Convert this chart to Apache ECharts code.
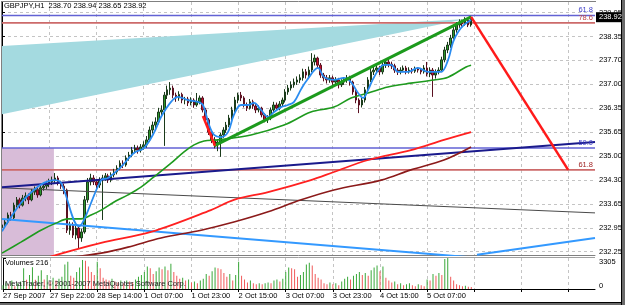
<!DOCTYPE html>
<html>
<head>
<meta charset="utf-8">
<script src="https://cdn.jsdelivr.net/npm/echarts@6/dist/echarts.min.js"></script>
<style>
  html, body { margin: 0; padding: 0; background: #fff; }
  #chart { width: 625px; height: 305px; }
</style>
</head>
<body>
<div id="chart"></div>
<script>
// GBPJPY H1, 27 Sep 2007 06:00 .. 5 Oct 2007 22:00 (one row per hourly bar)
// rows: [open, close, low, high]
const candles = [
  [232.95,233.03,232.80,233.12],[233.03,233.11,232.96,233.20],[233.11,233.31,233.05,233.38],[233.31,233.23,233.15,233.40],
  [233.23,233.59,233.18,233.66],[233.59,233.74,233.52,233.82],[233.74,233.59,233.50,233.80],[233.59,233.79,233.55,233.88],
  [233.79,233.85,233.70,233.95],[233.85,233.74,233.62,233.92],[233.74,233.96,233.70,234.05],[233.96,234.02,233.88,234.12],
  [234.02,233.88,233.80,234.08],[233.88,234.08,233.84,234.16],[234.08,234.13,234.00,234.22],[234.13,234.19,234.05,234.28],
  [234.19,234.25,234.10,234.34],[234.25,234.30,234.16,234.40],[234.30,234.36,234.22,234.50],[234.36,234.22,234.15,234.42],
  [234.22,234.13,234.05,234.28],[234.13,234.02,233.90,234.20],[234.02,232.88,232.80,234.06],[232.88,233.03,232.75,233.12],
  [233.03,232.74,232.66,233.10],[232.74,232.94,232.62,233.02],[232.94,232.66,232.37,233.00],[232.66,232.83,232.55,232.92],
  [232.83,233.74,232.78,233.85],[233.74,234.25,233.66,234.36],[234.25,234.36,234.15,234.48],[234.36,234.25,234.16,234.44],
  [234.25,234.16,234.05,234.32],[234.16,234.30,234.08,234.38],[234.30,234.36,233.17,234.45],[234.36,234.42,234.28,234.50],
  [234.42,234.30,234.22,234.48],[234.30,234.45,234.24,234.52],[234.45,234.53,234.38,234.62],[234.53,234.64,234.46,234.72],
  [234.64,234.78,234.58,234.86],[234.78,234.73,234.64,234.86],[234.73,234.93,234.68,235.00],[234.93,235.01,234.85,235.10],
  [235.01,235.15,234.95,235.24],[235.15,235.21,235.06,235.30],[235.21,235.15,235.05,235.28],[235.15,235.24,235.08,235.32],
  [235.24,235.30,235.16,235.40],[235.30,235.44,235.22,235.55],[235.44,235.72,235.38,235.82],[235.72,235.86,235.62,235.96],
  [235.86,235.95,235.75,236.08],[235.95,236.23,235.88,236.35],[236.23,236.29,236.10,236.42],[236.29,236.71,235.27,236.80],
  [236.71,236.86,236.60,236.98],[236.86,236.91,236.72,237.08],[236.91,236.71,236.62,236.98],[236.71,236.63,236.52,236.78],
  [236.63,236.73,236.55,236.82],[236.73,236.57,236.48,236.78],[236.57,236.60,236.45,236.66],[236.60,236.49,236.40,236.66],
  [236.49,236.57,236.42,236.65],[236.57,236.43,236.35,236.62],[236.43,236.52,236.38,236.77],[236.52,236.63,236.45,236.70],
  [236.63,236.29,236.22,236.68],[236.29,236.01,235.92,236.35],[236.01,235.66,235.58,236.06],[235.66,235.44,235.35,235.72],
  [235.44,235.30,235.20,235.52],[235.30,235.38,235.12,235.46],[235.38,235.58,234.96,235.64],[235.58,235.72,235.50,235.80],
  [235.72,235.86,235.64,235.95],[235.86,236.06,235.80,236.15],[236.06,236.29,236.00,236.38],[236.29,236.57,236.22,236.66],
  [236.57,236.71,236.48,236.78],[236.71,236.63,236.54,236.80],[236.63,236.43,236.36,236.68],[236.43,236.34,236.26,236.50],
  [236.34,236.52,236.30,236.60],[236.52,236.40,236.32,236.58],[236.40,236.29,236.20,236.46],[236.29,236.34,236.22,236.42],
  [236.34,236.15,236.08,236.38],[236.15,236.01,235.94,236.20],[236.01,236.06,235.92,236.14],[236.06,236.29,236.00,236.36],
  [236.29,236.43,236.22,236.52],[236.43,236.34,236.26,236.50],[236.34,236.46,236.28,236.54],[236.46,236.57,236.38,236.64],
  [236.57,236.80,236.50,236.88],[236.80,236.91,236.72,237.00],[236.91,237.00,236.84,237.10],[237.00,237.08,236.92,237.18],
  [237.08,237.14,237.00,237.24],[237.14,237.20,237.05,237.30],[237.20,237.37,237.12,237.46],[237.37,237.28,237.18,237.45],
  [237.28,237.42,237.20,237.52],[237.42,237.65,237.36,237.90],[237.65,237.76,237.55,237.86],[237.76,237.56,237.48,237.80],
  [237.56,237.28,237.20,237.62],[237.28,237.20,237.10,237.34],[237.20,237.14,237.04,237.28],[237.14,237.20,237.06,237.28],
  [237.20,237.08,237.00,237.26],[237.08,237.14,237.00,237.22],[237.14,237.00,236.90,237.20],[237.00,237.08,236.94,237.16],
  [237.08,237.14,237.00,237.22],[237.14,237.20,237.06,237.28],[237.20,237.08,236.98,237.26],[237.08,236.80,236.72,237.12],
  [236.80,236.57,236.48,236.86],[236.57,236.43,236.20,236.62],[236.43,236.57,236.36,236.66],[236.57,236.86,236.50,236.94],
  [236.86,237.14,236.80,237.22],[237.14,237.37,237.08,237.46],[237.37,237.42,237.28,237.52],[237.42,237.48,237.34,237.58],
  [237.48,237.37,237.28,237.54],[237.37,237.56,237.30,237.64],[237.56,237.65,237.48,237.72],[237.65,237.59,237.50,237.76],
  [237.59,237.54,237.45,237.66],[237.54,237.42,237.34,237.60],[237.42,237.37,237.28,237.48],[237.37,237.42,237.30,237.50],
  [237.42,237.48,237.36,237.55],[237.48,237.37,237.30,237.54],[237.37,237.42,237.32,237.50],[237.42,237.39,237.32,237.48],
  [237.39,237.45,237.34,237.52],[237.45,237.42,237.35,237.50],[237.42,237.37,237.30,237.48],[237.37,237.48,237.32,237.56],
  [237.48,237.31,237.24,237.65],[237.31,237.42,237.22,237.50],[237.42,237.28,236.66,237.48],[237.28,237.37,237.18,237.44],
  [237.37,237.42,237.30,237.50],[237.42,237.71,237.36,237.80],[237.71,237.99,237.64,238.08],[237.99,238.13,237.90,238.22],
  [238.13,238.33,238.05,238.42],[238.33,238.56,238.28,238.64],[238.56,238.70,238.48,238.78],[238.70,238.78,238.62,238.86],
  [238.78,238.73,238.65,238.85],[238.73,238.84,238.68,238.92],[238.84,238.70,238.64,238.88],[238.70,238.92,238.65,238.94]
];

const volumes = [
  400,700,500,900,300,600,800,2200,990,1500,2310,990,1400,2000,1000,1500,
  800,1200,900,1100,1300,2600,2900,1400,1200,1800,2300,3100,3000,2400,1800,1500,
  2900,2200,1200,1000,900,1100,800,700,900,600,900,800,700,1000,1300,1500,
  1800,2400,2200,1600,1900,2300,2100,2400,2000,2700,1800,1400,1100,1200,900,1000,
  700,800,600,900,1100,1600,1400,1900,2300,2200,2100,1700,1300,1600,900,1500,
  2900,1400,1000,700,900,600,500,600,500,600,700,600,900,1000,800,1100,
  1800,2300,2200,2100,1300,1500,1800,2600,2800,2500,1600,1200,1000,600,500,700,
  500,600,400,800,1100,1300,1000,1400,1600,1800,1500,1700,1400,2000,2300,2500,
  1900,2400,1200,900,700,800,500,600,400,500,600,400,300,500,400,300,
  1000,900,1600,1400,1700,1500,3200,3305,1300,900,500,400,300,350,250,216
];

// moving averages: [bar index, price]
const maFast = [[0,232.85],[6.4,233.65],[10.8,234.02],[14.2,234.22],[17.6,234.30],[20,234.22],[26.1,232.99],[27.8,233.17],
  [33.6,234.30],[35.9,234.36],[40.3,234.67],[44.7,235.07],[48.1,235.21],[51.5,235.64],[53.9,236.09],[57.3,236.52],
  [59.7,236.66],[63,236.57],[66.4,236.52],[68.1,236.43],[70.2,235.86],[71.9,235.58],[74.2,235.52],[76.6,235.66],
  [78.6,236.15],[81,236.43],[83.4,236.43],[85.4,236.49],[87.8,236.29],[90.2,236.09],[92.2,236.23],[94.6,236.37],
  [96.9,236.43],[99,236.52],[101.4,236.88],[103.4,237.14],[107.1,237.48],[109.2,237.22],[112.5,237.14],[115.9,237.20],
  [118.3,237.08],[120.7,236.77],[122.4,236.63],[124.1,236.86],[126.1,237.22],[129.5,237.57],[131.9,237.57],[134.2,237.37],
  [137.6,237.37],[141,237.48],[144.4,237.37],[148.8,237.37],[151.2,237.71],[152.9,238.22],[154.6,238.50],[156.6,238.70],[159,238.84]];
const maMid = [[0,232.23],[6.4,232.54],[13.2,232.88],[18.3,233.08],[22.4,233.20],[26.8,233.20],[30.2,233.31],[33.6,233.45],
  [38,233.68],[42.7,233.88],[47.1,234.10],[51.5,234.39],[57.3,234.78],[61.7,235.10],[65.1,235.30],[68.5,235.41],
  [73.2,235.44],[84.4,235.58],[95.6,235.86],[104.7,236.23],[112.5,236.37],[118.3,236.63],[124.1,236.77],[130.8,236.94],
  [138.6,237.05],[146.4,237.14],[151.2,237.22],[157.3,237.51],[159,237.56]];
const maSlow = [[16,232.12],[33.6,232.52],[50.5,232.83],[70.8,233.45],[78.6,233.74],[90.2,233.96],[104.7,234.30],
  [112.5,234.53],[124.1,234.87],[138.6,235.15],[149.8,235.44],[159,235.66]];
const maLong = [[24,232.12],[33.6,232.23],[42.7,232.40],[53.9,232.66],[67.5,232.88],[78.6,233.11],[90.2,233.40],
  [101.4,233.74],[112.5,234.02],[128.5,234.30],[138.6,234.59],[149.8,234.87],[159,235.24]];

// drawn objects: [bar index, price]
const trendNavy = [[0,234.10],[201,235.38]];
const trendGray = [[0,234.08],[201,233.37]];
const trendBlueDown = [[0,233.20],[159,232.11]];
const trendBlueUp = [[161,232.18],[201,232.66]];
const trendGreen = [[71.9,235.27],[159,238.93]];
const zigzagA = [[68.1,236.12],[72.2,235.27]];
const zigzagB = [[159,238.93],[191.9,234.59]];
const fanCorners = [[0,238.10],[0,236.17],[157.3,238.87]];
const boxCorners = [[0,235.21],[17.6,235.21],[17.6,232.10],[0,232.10]];
const fibLevels = [238.97, 238.76, 235.21, 234.59];
const fibNames = ['61.8', '78.6', '50.0', '61.8'];

const priceLabels = ['232.25','232.95','233.65','234.30','235.00','235.65','236.35','237.00','237.70','238.35','239.05'];
const timeLabels = ['27 Sep 2007','27 Sep 22:00','28 Sep 14:00','1 Oct 07:00','1 Oct 23:00','2 Oct 15:00',
  '3 Oct 07:00','3 Oct 23:00','4 Oct 15:00','5 Oct 07:00'];

const PRICE_BASE = 232.27, PRICE_STEP = 0.678;
const BARS_PER_LABEL = 16, X_MAX = 201;
const FONT = 'Liberation Sans, Arial, sans-serif';

const priceTicks = priceLabels.map((_, k) => PRICE_BASE + k * PRICE_STEP);
const gridTicks = [];
for (let v = 0; v <= X_MAX; v += BARS_PER_LABEL) gridTicks.push(v);
const labelTicks = timeLabels.map((_, k) => k * BARS_PER_LABEL);
const volMax = Math.max(...volumes);
const last = candles[candles.length - 1];

const gridLine = { show: true, lineStyle: { color: '#c4c4c4', type: [3, 3], width: 1 } };
const segment = (data, color, width, z = 4) => ({
  type: 'line', data, xAxisIndex: 0, yAxisIndex: 0, showSymbol: false, symbol: 'none',
  lineStyle: { color, width }, z, silent: true,
});
const curve = (data, color, width) => ({ ...segment(data, color, width, 5), smooth: 0.35 });
const polygon = (pts, fill) => ({
  type: 'custom', xAxisIndex: 0, yAxisIndex: 0, z: 1, clip: true, silent: true,
  data: [[pts[0][0], pts[0][1]]],
  renderItem: (params, api) => ({
    type: 'polygon', shape: { points: pts.map(p => api.coord(p)) }, style: { fill },
  }),
});

const chart = echarts.init(document.getElementById('chart'));
chart.setOption({
  animation: false,
  backgroundColor: '#fff',
  textStyle: { fontFamily: FONT },
  title: {
    text: 'GBPJPY,H1  ' + last[0].toFixed(2) + ' ' + last[3].toFixed(2) + ' ' + last[2].toFixed(2) + ' ' + last[1].toFixed(2),
    left: 4, top: 2, padding: 0,
    textStyle: { fontSize: 7.5, fontWeight: 'normal', color: '#000', fontFamily: FONT },
  },
  grid: [
    { left: 2, right: 30, top: 2, height: 253 },
    { left: 2, right: 30, top: 258, height: 31 },
  ],
  xAxis: [
    {
      gridIndex: 0, type: 'value', min: 0, max: X_MAX,
      axisLine: { show: true, onZero: false, lineStyle: { color: '#808080' } },
      axisTick: { show: false, customValues: gridTicks },
      axisLabel: { show: false },
      splitLine: gridLine,
    },
    {
      gridIndex: 1, type: 'value', min: 0, max: X_MAX,
      axisLine: { show: true, onZero: false, lineStyle: { color: '#000' } },
      axisTick: { show: true, customValues: gridTicks, length: 3, lineStyle: { color: '#000' } },
      axisLabel: {
        customValues: labelTicks, align: 'left', margin: 3, fontSize: 7.5, color: '#000', fontFamily: FONT,
        formatter: v => timeLabels[Math.round(v / BARS_PER_LABEL)] || '',
      },
      splitLine: gridLine,
    },
  ],
  yAxis: [
    {
      gridIndex: 0, type: 'value', position: 'right',
      min: PRICE_BASE - 0.094, max: PRICE_BASE + 7.081,
      axisLine: { show: true, lineStyle: { color: '#000' } },
      axisTick: { show: true, customValues: priceTicks, length: 3, lineStyle: { color: '#000' } },
      axisLabel: {
        customValues: priceTicks, margin: 4, fontSize: 7.5, color: '#000', fontFamily: FONT,
        formatter: v => priceLabels[Math.round((v - PRICE_BASE) / PRICE_STEP)] || '',
      },
      splitLine: gridLine,
    },
    {
      gridIndex: 1, type: 'value', position: 'right', min: 0, max: volMax,
      axisLine: { show: true, lineStyle: { color: '#000' } },
      axisTick: { show: true, customValues: [0, volMax], length: 3, lineStyle: { color: '#000' } },
      axisLabel: {
        customValues: [0, volMax], margin: 4, fontSize: 7.5, color: '#000', fontFamily: FONT,
        formatter: v => v === 0 ? '{b|0}' : '{t|' + v + '}',
        rich: { t: { padding: [7, 0, 0, 0], fontSize: 7.5 }, b: { padding: [0, 0, 7, 0], fontSize: 7.5 } },
      },
      splitLine: { show: false },
    },
  ],
  series: [
    polygon(fanCorners, '#a4dae0'),
    polygon(boxCorners, '#d8bcd8'),
    segment([[0, fibLevels[0]], [X_MAX, fibLevels[0]]], '#6262d4', 1.6, 2),
    segment([[0, fibLevels[1]], [X_MAX, fibLevels[1]]], '#cc6a6a', 1.6, 2),
    segment([[0, fibLevels[2]], [X_MAX, fibLevels[2]]], '#6262d4', 1.6, 2),
    segment([[0, fibLevels[3]], [X_MAX, fibLevels[3]]], '#cc6a6a', 1.6, 2),
    segment(trendGray, '#4a4a4a', 1),
    segment(trendBlueDown, '#3399ff', 2),
    segment(trendBlueUp, '#3399ff', 2),
    segment(trendNavy, '#1a1a8c', 2),
    curve(maLong, '#8b1a1a', 1.6),
    curve(maSlow, '#ff2020', 1.8),
    curve(maMid, '#1e9a1e', 1.6),
    {
      type: 'candlestick', xAxisIndex: 0, yAxisIndex: 0, z: 3, barWidth: 2,
      data: candles.map((c, i) => [i, c[0], c[1], c[2], c[3]]),
      encode: { x: 0, y: [1, 2, 3, 4] },
      itemStyle: { color: '#2b962b', color0: '#c8102e', borderColor: '#1a3a1a', borderColor0: '#5a1020', borderWidth: 1 },
    },
    segment(trendGreen, '#1c9a1c', 3, 6),
    segment(zigzagA, '#ff1a1a', 2.5, 6),
    segment(zigzagB, '#ff1a1a', 2.5, 6),
    curve(maFast, '#2a8cf0', 1.8),
    {
      type: 'bar', xAxisIndex: 1, yAxisIndex: 1, barWidth: 1, silent: true,
      data: volumes.map((v, i) => ({
        value: [i, v],
        itemStyle: { color: i > 0 && v <= volumes[i - 1] ? '#f05a5a' : '#3aa83a' },
      })),
    },
  ],
});

// labels placed through the chart's own scales
const toPx = (i, p) => chart.convertToPixel({ gridIndex: 0 }, [i, p]);
const fibColors = ['#3c3cc8', '#c04848', '#3c3cc8', '#a02424'];
const overlay = fibLevels.map((lv, k) => {
  const [x, y] = toPx(X_MAX, lv);
  return {
    type: 'text', x: x - 2, y: y - 1, z: 10,
    style: { text: fibNames[k], fill: fibColors[k], font: '7.5px ' + FONT, align: 'right', verticalAlign: 'bottom' },
  };
});
const [ax, ay] = toPx(X_MAX, last[1]);
overlay.push(
  { type: 'rect', shape: { x: ax + 1, y: ay - 5, width: 25, height: 10 }, style: { fill: '#000' }, z: 20 },
  { type: 'text', x: ax + 4, y: ay, z: 21,
    style: { text: last[1].toFixed(2), fill: '#fff', font: '7.5px ' + FONT, verticalAlign: 'middle' } },
  { type: 'text', x: 5, y: 259, z: 10,
    style: { text: 'Volumes ' + volumes[volumes.length - 1], fill: '#000', font: '7.5px ' + FONT } },
  { type: 'text', x: 5, y: 280, z: 10,
    style: { text: 'MetaTrader, \u00a9 2001-2007 MetaQuotes Software Corp.', fill: '#202020', font: '7.5px ' + FONT } },
  { type: 'line', shape: { x1: 2, y1: 257.5, x2: 595, y2: 257.5 }, style: { stroke: '#a0a0a0', lineWidth: 1 }, z: 10 },
  { type: 'line', shape: { x1: 1.5, y1: 1, x2: 1.5, y2: 290 }, style: { stroke: '#808080', lineWidth: 1 }, z: 10 },
  { type: 'line', shape: { x1: 1, y1: 1.5, x2: 596, y2: 1.5 }, style: { stroke: '#808080', lineWidth: 1 }, z: 10 },
  { type: 'rect', shape: { x: 621, y: 0, width: 4, height: 305 }, style: { fill: '#6a6a6a' }, z: 10 },
  { type: 'line', shape: { x1: 621.5, y1: 0, x2: 621.5, y2: 305 }, style: { stroke: '#000', lineWidth: 1 }, z: 11 },
  { type: 'rect', shape: { x: 0, y: 302, width: 625, height: 3 }, style: { fill: '#6a6a6a' }, z: 10 },
  { type: 'line', shape: { x1: 0, y1: 302.5, x2: 622, y2: 302.5 }, style: { stroke: '#000', lineWidth: 1 }, z: 11 },
);
chart.setOption({ graphic: overlay });
</script>
</body>
</html>
